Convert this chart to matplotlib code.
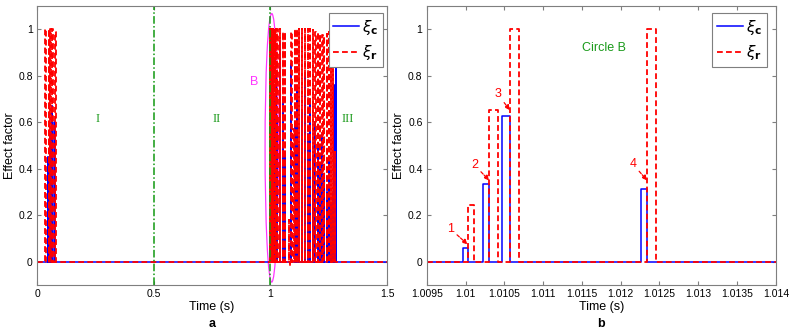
import matplotlib
matplotlib.use("Agg")
import matplotlib.pyplot as plt
from matplotlib.patches import Ellipse

plt.rcParams["font.family"] = ["Liberation Sans", "DejaVu Sans"]

# ---- panel a: whole run (pulse start, width, height) ----
a_r_start = [0.036, 0.050, 0.057, 0.066, 0.075,
             0.9995, 1.0029, 1.0063, 1.0101, 1.0135, 1.0168, 1.0205, 1.0240, 1.0275, 1.0300,
             1.041, 1.053, 1.063, 1.081, 1.0835, 1.090, 1.099, 1.106, 1.113, 1.124, 1.137,
             1.149, 1.160, 1.170, 1.182, 1.193, 1.203, 1.213, 1.223, 1.231, 1.241, 1.250,
             1.259, 1.267, 1.278]
a_r_width = [0.0015, 0.002, 0.002, 0.004, 0.005] + [0.0006] * 35
a_r_height = [1.0, 1.0, 1.0, 1.0, 0.99,
              1.0, 1.0, 1.0, 1.0, 1.0, 1.0, 1.0, 1.0, 1.0, 1.0,
              1.0, 0.99, 0.99, 0.18, -0.02, 0.99, 0.57, 1.0, 1.0, 1.0, 1.0,
              1.0, 1.0, 1.0, 0.995, 0.99, 0.99, 0.98, 0.975, 0.97, 0.98, 0.99,
              0.97, 0.96, 0.47]

a_c_start = [0.046, 0.055, 0.063, 0.072,
             0.9990, 1.0024, 1.0058, 1.0096, 1.0130, 1.0163, 1.0200, 1.0235, 1.0270,
             1.0405, 1.0525, 1.0625, 1.0895, 1.1055, 1.1125, 1.1235, 1.1365, 1.1485,
             1.1595, 1.1695, 1.1815, 1.1925, 1.2025, 1.2125, 1.2225, 1.2305, 1.2405,
             1.2495, 1.2585, 1.2665, 1.2715, 1.2815]
a_c_width = [0.002, 0.002, 0.003, 0.003] + [0.0005] * 30 + [0.0003, 0.0003]
a_c_height = [0.45, 0.55, 0.67, 0.6,
              0.06, 0.34, 0.63, 0.31, 0.55, 0.72, 0.45, 0.8, 0.6,
              0.95, 0.7, 0.45, 0.85, 0.6, 0.75, 0.5, 0.65, 0.8,
              0.55, 0.7, 0.45, 0.6, 0.5, 0.4, 0.55, 0.35, 0.3,
              0.45, 0.25, 0.3, 0.76, 0.89]

phase_bounds = [0.5, 1.0]
phase_labels = ["I", "II", "III"]
phase_label_x = [0.258, 0.769, 1.332]

# ---- panel b: circle B zoom ----
b_c_start = [1.009972, 1.010221, 1.010474, 1.012257]
b_c_end = [1.010028, 1.010303, 1.010569, 1.012334]
b_c_height = [0.057, 0.336, 0.628, 0.313]
b_r_start = [1.010028, 1.010303, 1.010569, 1.012334]
b_r_end = [1.010113, 1.010415, 1.010689, 1.012454]
b_r_height = [0.246, 0.652, 1.0, 1.0]

b_xticks = [1.0095, 1.01, 1.0105, 1.011, 1.0115, 1.012, 1.0125, 1.013, 1.0135, 1.014]
b_xticklabels = ["1.0095", "1.01", "1.0105", "1.011", "1.0115", "1.012",
                 "1.0125", "1.013", "1.0135", "1.014"]
arrow_labels = ["1", "2", "3", "4"]
arrow_text_xy = [(1.00981, 0.14), (1.010118, 0.415), (1.010418, 0.72), (1.012157, 0.42)]
arrow_tip_xy = [(1.010026, 0.075), (1.010305, 0.35), (1.010571, 0.652), (1.012340, 0.35)]

BLUE = "#0000ff"
RED = "#ff0000"
GREEN = "#1a9a1a"
SPINE = "#7f7f7f"


def trace(starts, ends, heights, x0, x1):
    xs, ys = [x0], [0.0]
    for s, e, h in zip(starts, ends, heights):
        xs += [s, s, e, e]
        ys += [0.0, h, h, 0.0]
    xs.append(x1)
    ys.append(0.0)
    return xs, ys


def style_axes(ax):
    for sp in ax.spines.values():
        sp.set_color(SPINE)
        sp.set_linewidth(0.8)
    ax.tick_params(direction="in", top=True, right=True, length=3,
                   color=SPINE, labelsize=7.5, pad=3)
    ax.set_ylim(-0.1, 1.1)
    ax.set_yticks([0, 0.2, 0.4, 0.6, 0.8, 1])
    ax.set_yticklabels(["0", "0.2", "0.4", "0.6", "0.8", "1"])
    ax.set_xlabel("Time (s)", fontsize=9, labelpad=1)
    ax.set_ylabel("Effect factor", fontsize=9, labelpad=2)


def add_legend(ax, anchor):
    leg = ax.legend(loc="upper right", bbox_to_anchor=anchor, borderaxespad=0,
                    fontsize=11, fancybox=False, framealpha=1, edgecolor=SPINE,
                    handlelength=1.7, borderpad=0.3, labelspacing=0.45,
                    handletextpad=0.2)
    leg.get_frame().set_linewidth(0.8)


fig = plt.figure(figsize=(7.93, 3.32), dpi=100)
ax1 = fig.add_axes([0.0467, 0.1416, 0.4414, 0.8404])
ax2 = fig.add_axes([0.5381, 0.1416, 0.4403, 0.8404])

# panel a
xa0, xa1 = 0.0, 1.5
cx, cy = trace(a_c_start, [s + w for s, w in zip(a_c_start, a_c_width)], a_c_height, xa0, xa1)
rx, ry = trace(a_r_start, [s + w for s, w in zip(a_r_start, a_r_width)], a_r_height, xa0, xa1)
ax1.plot(cx, cy, color=BLUE, lw=1.1, label=r"$\xi_{\mathbf{c}}$")
ax1.plot(rx, ry, color=RED, lw=1.3, dashes=(3.2, 1.8), label=r"$\xi_{\mathbf{r}}$")
for xb in phase_bounds:
    ax1.axvline(xb, color="#119911", lw=1.1, ls=(0, (5, 1.5, 1, 1.5)))
ax1.add_patch(Ellipse((1.0057, 0.49), 0.057, 1.155, fill=False, edgecolor="#ff33ff", lw=0.9))
ax1.text(0.931, 0.775, "B", color="#ff33ff", fontsize=9, ha="center", va="center")
for lab, xl in zip(phase_labels, phase_label_x):
    ax1.text(xl, 0.612, lab, color=GREEN, fontsize=9, ha="center", va="center",
             family=["Liberation Serif", "DejaVu Serif"])
ax1.set_xlim(xa0, xa1)
ax1.set_xticks([0, 0.5, 1, 1.5])
ax1.set_xticklabels(["0", "0.5", "1", "1.5"])
style_axes(ax1)
add_legend(ax1, (0.9886, 0.975))
fig.text(0.2674, 0.015, "a", fontsize=9, fontweight="bold", ha="center")

# panel b
xb0, xb1 = 1.0095, 1.014
cx, cy = trace(b_c_start, b_c_end, b_c_height, xb0, xb1)
rx, ry = trace(b_r_start, b_r_end, b_r_height, xb0, xb1)
ax2.plot(cx, cy, color=BLUE, lw=1.1, label=r"$\xi_{\mathbf{c}}$")
ax2.plot(rx, ry, color=RED, lw=1.3, dashes=(3.2, 1.8), label=r"$\xi_{\mathbf{r}}$")
ax2.text(1.011784, 0.92, "Circle B", color=GREEN, fontsize=9, ha="center", va="center")
for lab, txy, pxy in zip(arrow_labels, arrow_text_xy, arrow_tip_xy):
    ax2.annotate(lab, xy=pxy, xytext=txy, color=RED, fontsize=9, ha="center", va="center",
                 arrowprops=dict(arrowstyle="-|>", color=RED, lw=0.9,
                                 linestyle=(0, (2.5, 1.2)), mutation_scale=7,
                                 shrinkA=0, shrinkB=0))
ax2.set_xlim(xb0, xb1)
ax2.set_xticks(b_xticks)
ax2.set_xticklabels(b_xticklabels)
style_axes(ax2)
add_legend(ax2, (0.974, 0.975))
fig.text(0.7583, 0.015, "b", fontsize=9, fontweight="bold", ha="center")

fig.savefig("out.png", dpi=100)
plt.close(fig)
